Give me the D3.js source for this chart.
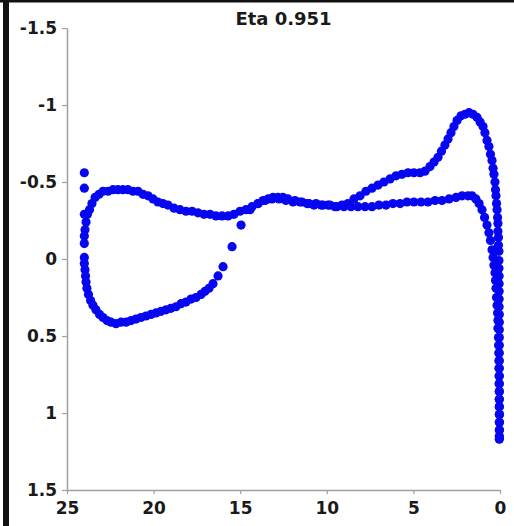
<!DOCTYPE html>
<html>
<head>
<meta charset="utf-8">
<script src="https://cdn.jsdelivr.net/npm/d3@7/dist/d3.min.js"></script>
<style>
  html, body { margin: 0; padding: 0; background: #fff; }
  svg { display: block; }
  .tick text { font-family: "DejaVu Sans", sans-serif; font-weight: bold; font-size: 17px; fill: #1a1a1a; }
  .title { font-family: "DejaVu Sans", sans-serif; font-weight: bold; font-size: 18px; fill: #1a1a1a; }
</style>
</head>
<body>
<script>
// Chart title
const chartTitle = "Eta 0.951";

// Axis ticks
const xTicks = [25, 20, 15, 10, 5, 0];
const xTickLabels = ["25", "20", "15", "10", "5", "0"];
const yTicks = [-1.5, -1, -0.5, 0, 0.5, 1, 1.5];
const yTickLabels = ["-1.5", "-1", "-0.5", "0", "0.5", "1", "1.5"];

// First surface: loop at the left, suction peak near x = 2
const curveA = [
  [24.0,-0.56],[24.0,-0.46],[24.0,-0.29],[24.0,-0.01],[24.0,0.03],[23.96,0.07],[23.93,0.11],
  [23.90,0.15],[23.85,0.19],[23.76,0.23],[23.64,0.27],[23.50,0.30],[23.33,0.33],[23.12,0.36],
  [22.92,0.38],[22.69,0.40],[22.46,0.41],[22.17,0.42],[21.88,0.41],[21.59,0.41],[21.30,0.40],
  [21.02,0.39],[20.73,0.38],[20.44,0.37],[20.15,0.36],[19.86,0.35],[19.57,0.34],[19.28,0.33],
  [19.00,0.32],[18.71,0.31],[18.42,0.29],[18.13,0.28],[17.84,0.26],[17.55,0.25],[17.26,0.23],
  [17.03,0.21],[16.80,0.19],[16.57,0.16],[16.28,0.11],[15.99,0.05],[15.47,-0.08],[14.95,-0.22],
  [14.43,-0.32],[13.97,-0.36],[13.57,-0.38],[13.16,-0.39],[12.76,-0.39],[12.36,-0.38],
  [11.95,-0.37],[11.55,-0.37],[11.14,-0.36],[10.74,-0.35],[10.33,-0.35],[9.93,-0.35],
  [9.53,-0.34],[9.12,-0.35],[8.78,-0.36],[8.43,-0.39],[8.08,-0.41],[7.74,-0.44],[7.39,-0.46],
  [7.04,-0.48],[6.70,-0.50],[6.35,-0.52],[6.00,-0.54],[5.66,-0.55],[5.31,-0.56],[4.97,-0.56],
  [4.62,-0.56],[4.33,-0.57],[4.04,-0.60],[3.81,-0.63],[3.58,-0.66],[3.38,-0.70],[3.18,-0.74],
  [3.00,-0.78],[2.83,-0.82],[2.66,-0.86],[2.48,-0.90],[2.25,-0.93],[2.02,-0.94],[1.79,-0.95],
  [1.56,-0.94],[1.33,-0.92],[1.15,-0.89],[0.98,-0.86],[0.87,-0.82],[0.75,-0.77],[0.64,-0.73],
  [0.55,-0.68],[0.46,-0.64],[0.40,-0.59],[0.35,-0.55],[0.29,-0.50],[0.26,-0.45],[0.23,-0.41],
  [0.20,-0.36],[0.17,-0.32],[0.14,-0.27],[0.12,-0.23],[0.12,-0.18],[0.09,-0.14],[0.09,-0.09],
  [0.06,-0.05],[0.06,0.01],[0.06,0.06],[0.05,0.11],[0.05,0.16],[0.05,0.21],[0.05,0.26],
  [0.05,0.31],[0.04,0.36],[0.04,0.41],[0.04,0.46],[0.04,0.51],[0.04,0.56],[0.04,0.61],
  [0.04,0.66],[0.04,0.71],[0.04,0.76],[0.04,0.81],[0.04,0.86],[0.04,0.91],[0.04,0.96],
  [0.04,1.01],[0.04,1.06],[0.04,1.11],[0.04,1.15],[0.04,1.17]
];

// Second surface: hump near x = 22, flat plateau to the right
const curveB = [
  [24.0,-0.10],[24.0,-0.15],[23.96,-0.19],[23.90,-0.24],[23.82,-0.29],[23.70,-0.32],
  [23.56,-0.36],[23.38,-0.40],[23.15,-0.42],[22.92,-0.44],[22.63,-0.44],[22.34,-0.45],
  [22.06,-0.45],[21.77,-0.45],[21.48,-0.45],[21.19,-0.44],[20.90,-0.44],[20.61,-0.42],
  [20.32,-0.41],[20.03,-0.39],[19.75,-0.37],[19.46,-0.36],[19.17,-0.35],[18.82,-0.33],
  [18.48,-0.32],[18.13,-0.31],[17.78,-0.31],[17.44,-0.30],[17.09,-0.29],[16.74,-0.29],
  [16.40,-0.28],[16.05,-0.28],[15.70,-0.28],[15.36,-0.29],[15.01,-0.31],[14.67,-0.32],
  [14.32,-0.34],[13.97,-0.36],[13.68,-0.38],[13.39,-0.39],[13.11,-0.40],[12.82,-0.40],
  [12.53,-0.40],[12.24,-0.39],[11.84,-0.38],[11.43,-0.37],[11.03,-0.36],[10.62,-0.36],
  [10.22,-0.35],[9.82,-0.35],[9.41,-0.34],[9.01,-0.34],[8.60,-0.34],[8.20,-0.34],
  [7.79,-0.34],[7.39,-0.34],[6.99,-0.35],[6.58,-0.35],[6.18,-0.36],[5.77,-0.36],
  [5.37,-0.37],[4.97,-0.37],[4.56,-0.37],[4.16,-0.37],[3.75,-0.38],[3.35,-0.38],
  [2.94,-0.39],[2.54,-0.40],[2.19,-0.41],[1.85,-0.41],[1.62,-0.41],[1.39,-0.39],
  [1.21,-0.36],[1.04,-0.32],[0.89,-0.27],[0.75,-0.22],[0.64,-0.17],[0.55,-0.12],
  [0.46,-0.06],[0.40,-0.01],[0.35,0.04],[0.29,0.09],[0.26,0.14],[0.23,0.19],[0.20,0.25],
  [0.17,0.30],[0.14,0.35],[0.12,0.40],[0.12,0.45],[0.09,0.51],[0.08,0.56],[0.07,0.61],
  [0.06,0.66],[0.06,0.71],[0.05,0.76],[0.05,0.81],[0.04,0.86],[0.04,0.91],[0.04,0.96],
  [0.03,1.01],[0.03,1.06],[0.03,1.11],[0.03,1.16]
];

const W = 514, H = 526;
const margin = { left: 67, right: 14, top: 28, bottom: 36 };

const svg = d3.select("body").append("svg")
  .attr("width", W).attr("height", H);

svg.append("rect").attr("width", W).attr("height", H).attr("fill", "#fff");

// Dark frame edges
svg.append("rect").attr("x", 0).attr("y", 0).attr("width", W).attr("height", 2.5).attr("fill", "#111");
svg.append("rect").attr("x", 3).attr("y", 0).attr("width", 6).attr("height", H).attr("fill", "#111");

const x = d3.scaleLinear().domain([25, 0]).range([margin.left, W - margin.right]);
const y = d3.scaleLinear().domain([-1.5, 1.5]).range([margin.top, H - margin.bottom]);

const xAxis = d3.axisBottom(x)
  .tickValues(xTicks)
  .tickFormat((d, i) => xTickLabels[i])
  .tickSizeOuter(0).tickSizeInner(4).tickPadding(5);

const yAxis = d3.axisLeft(y)
  .tickValues(yTicks)
  .tickFormat((d, i) => yTickLabels[i])
  .tickSizeOuter(0).tickSizeInner(5).tickPadding(5);

const gx = svg.append("g")
  .attr("transform", `translate(0,${y(1.5)})`)
  .call(xAxis);
gx.selectAll("text").attr("dy", "0.9em");

const gy = svg.append("g")
  .attr("transform", `translate(${x(25)},0)`)
  .call(yAxis);

svg.selectAll(".domain").attr("stroke", "#a0a0a0").attr("stroke-width", 1.5);
svg.selectAll(".tick line").attr("stroke", "#a0a0a0").attr("stroke-width", 1.2);

svg.append("text")
  .attr("class", "title")
  .attr("x", (x(25) + x(0)) / 2)
  .attr("y", 25)
  .attr("text-anchor", "middle")
  .text(chartTitle);

const pts = svg.append("g");
[curveA, curveB].forEach(series => {
  pts.selectAll(null)
    .data(series)
    .enter().append("circle")
    .attr("cx", d => x(d[0]))
    .attr("cy", d => y(d[1]))
    .attr("r", 4.6)
    .attr("fill", "#0606f0");
});
</script>
</body>
</html>
